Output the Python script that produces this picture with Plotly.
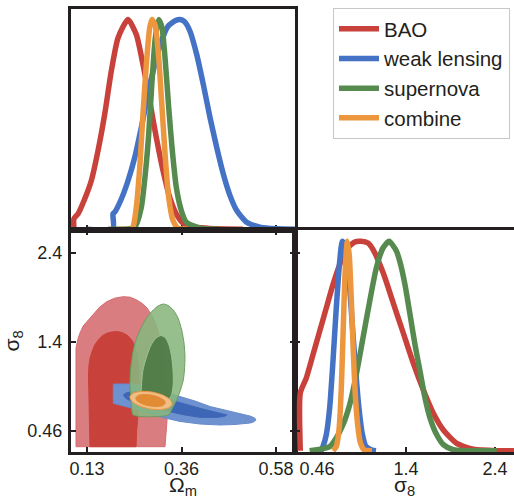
import plotly.graph_objects as go

# ---------------- data ----------------
series = ["BAO", "weak lensing", "supernova", "combine"]
colors = ["#c8413a", "#4472c4", "#568a4e", "#ec963e"]

# 1D marginal of Omega_m (normalised to peak = 1)
om_bao = [0.099, 0.099, 0.1086, 0.1245, 0.1402, 0.1562, 0.1721, 0.1879, 0.2038, 0.2276, 0.2474, 0.2633,
          0.2793, 0.2950, 0.3110, 0.3269, 0.3426, 0.3586, 0.387, 0.423, 0.501]
pd_om_bao = [0, 0.05, 0.073, 0.144, 0.231, 0.374, 0.548, 0.754, 0.912, 1.0, 0.928, 0.785,
             0.611, 0.437, 0.279, 0.152, 0.073, 0.029, 0.01, 0.003, 0]
om_wl = [0.130, 0.1919, 0.1919, 0.196, 0.2117, 0.2276, 0.2436, 0.2593, 0.2752, 0.2912, 0.3069, 0.3229,
         0.3410, 0.3514, 0.3620, 0.3752, 0.3912, 0.4069, 0.4229, 0.4388, 0.4545, 0.4705, 0.4864, 0.5102,
         0.5419, 0.5817, 0.6252]
pd_om_wl = [0, 0, 0.073, 0.081, 0.144, 0.231, 0.342, 0.485, 0.643, 0.785, 0.896, 0.968,
            0.995, 1.0, 0.99, 0.944, 0.833, 0.690, 0.532, 0.390, 0.263, 0.160, 0.089, 0.033,
            0.01, 0.002, 0]
om_sn = [0.18, 0.2436, 0.2593, 0.2688, 0.2769, 0.2848, 0.2926, 0.3007, 0.3086, 0.3164, 0.3245, 0.3324,
         0.3426, 0.3545, 0.3664, 0.399, 0.4467]
pd_om_sn = [0, 0.01, 0.104, 0.263, 0.453, 0.706, 0.912, 1.0, 0.96, 0.801, 0.58, 0.39,
            0.2, 0.089, 0.033, 0.005, 0]
om_cb = [0.2038, 0.2348, 0.2395, 0.2474, 0.2555, 0.2633, 0.2712, 0.2793, 0.2848, 0.2926, 0.3007, 0.3086,
         0.3164, 0.3245, 0.3348, 0.3467, 0.3705]
pd_om_cb = [0, 0, 0.01, 0.104, 0.294, 0.548, 0.785, 0.96, 1.0, 0.97, 0.817, 0.58,
            0.342, 0.152, 0.041, 0.005, 0]

# 1D marginal of sigma_8
s8_bao = [0.278, 0.278, 0.343, 0.416, 0.489, 0.561, 0.634, 0.707, 0.779, 0.871, 0.940, 1.016,
          1.074, 1.183, 1.292, 1.401, 1.510, 1.619, 1.728, 1.837, 1.983, 2.164, 2.419, 2.607]
pd_s8_bao = [0, 0.276, 0.347, 0.458, 0.570, 0.681, 0.793, 0.888, 0.960, 0.997, 1.0, 0.992,
             0.958, 0.847, 0.704, 0.561, 0.417, 0.290, 0.179, 0.099, 0.035, 0.007, 0, 0]
s8_wl = [0.384, 0.504, 0.525, 0.561, 0.598, 0.634, 0.670, 0.707, 0.736, 0.773, 0.809, 0.845,
         0.882, 0.918, 0.954, 0.994, 1.059, 1.103]
pd_s8_wl = [0, 0, 0.02, 0.076, 0.204, 0.427, 0.681, 0.904, 1.0, 0.97, 0.82, 0.6,
            0.38, 0.2, 0.08, 0.02, 0.003, 0]
s8_sn = [0.380, 0.598, 0.670, 0.743, 0.816, 0.888, 0.961, 1.034, 1.106, 1.179, 1.245, 1.324,
         1.365, 1.419, 1.474, 1.528, 1.583, 1.637, 1.692, 1.765, 1.837, 1.946, 2.419]
pd_s8_sn = [0, 0.02, 0.061, 0.124, 0.22, 0.363, 0.538, 0.713, 0.872, 0.968, 1.0, 0.955,
            0.9, 0.793, 0.65, 0.506, 0.379, 0.252, 0.156, 0.076, 0.029, 0.005, 0]
s8_cb = [0.634, 0.670, 0.700, 0.725, 0.747, 0.768, 0.790, 0.812, 0.834, 0.856, 0.877, 0.904,
         0.932, 0.972, 1.059]
pd_s8_cb = [0, 0.02, 0.1, 0.3, 0.6, 0.87, 1.0, 0.93, 0.72, 0.47, 0.27, 0.12,
            0.04, 0.005, 0]

# 2D credible contours (Omega_m, sigma_8): 95% (outer) and 68% (inner)
bao95_om = [0.1038, 0.1038, 0.1080, 0.1130, 0.1212, 0.1320, 0.1450, 0.1600, 0.1769, 0.1960, 0.2164,
            0.2330, 0.2483, 0.2615, 0.2729, 0.2830, 0.2919, 0.2995, 0.3062, 0.3105, 0.3133,
            0.3155, 0.3169, 0.3185, 0.3193, 0.3202, 0.3205, 0.3195, 0.3181, 0.3157]
bao95_s8 = [0.289, 1.361, 1.455, 1.525, 1.606, 1.663, 1.740, 1.810, 1.869, 1.908, 1.924,
            1.918, 1.888, 1.850, 1.801, 1.730, 1.648, 1.555, 1.452, 1.345, 1.234,
            1.125, 1.016, 0.907, 0.798, 0.689, 0.580, 0.490, 0.416, 0.289]
bao68_om = [0.1371, 0.1360, 0.1336, 0.1331, 0.1335, 0.1348, 0.1375, 0.1419, 0.1480, 0.1569, 0.1665,
            0.1769, 0.1890, 0.2014, 0.2140, 0.2252, 0.2330, 0.2395, 0.2450, 0.2491, 0.2520, 0.2538,
            0.2542, 0.2538, 0.2521, 0.2483, 0.2467]
bao68_s8 = [0.289, 0.525, 0.743, 0.961, 1.070, 1.179, 1.260, 1.321, 1.395, 1.452, 1.498,
            1.525, 1.540, 1.544, 1.532, 1.506, 1.472, 1.430, 1.365, 1.288, 1.180, 1.070,
            0.961, 0.852, 0.656, 0.471, 0.289]
wl95_om = [0.1926, 0.2324, 0.2681, 0.3038, 0.3395, 0.3871, 0.4229, 0.4586, 0.4943, 0.5181, 0.5290, 0.5324,
           0.5260, 0.5181, 0.4824, 0.4467, 0.3991, 0.3514, 0.3157, 0.2800, 0.2443, 0.2086, 0.1926]
wl95_s8 = [0.972, 0.972, 0.961, 0.929, 0.852, 0.787, 0.727, 0.689, 0.653, 0.623, 0.603, 0.580,
           0.557, 0.547, 0.531, 0.525, 0.536, 0.564, 0.602, 0.645, 0.700, 0.743, 0.762]
wl68_om = [0.2164, 0.2220, 0.2324, 0.2562, 0.2919, 0.3436, 0.3991, 0.4388, 0.4560, 0.4633, 0.4560,
           0.4395, 0.3991, 0.3633, 0.3276, 0.2919, 0.2640, 0.2371, 0.2229]
wl68_s8 = [0.852, 0.872, 0.885, 0.896, 0.863, 0.779, 0.707, 0.662, 0.645, 0.634, 0.618,
           0.609, 0.609, 0.634, 0.670, 0.711, 0.743, 0.782, 0.814]
sn95_om = [0.2402, 0.2348, 0.2324, 0.2336, 0.2402, 0.2491, 0.2602, 0.2729, 0.2879, 0.2991, 0.3117,
           0.3229, 0.3355, 0.3467, 0.3555, 0.3610, 0.3633, 0.3621, 0.3593, 0.3526, 0.3436, 0.3336, 0.3236]
sn95_s8 = [0.634, 0.798, 0.961, 1.125, 1.343, 1.484, 1.597, 1.702, 1.779, 1.822, 1.844,
           1.828, 1.779, 1.692, 1.561, 1.419, 1.270, 1.125, 1.016, 0.907, 0.798, 0.711, 0.634]
sn68_om = [0.2610, 0.2598, 0.2633, 0.2717, 0.2824, 0.2943, 0.3062, 0.3169, 0.3252, 0.3312, 0.3348,
           0.3355, 0.3324, 0.3276]
sn68_s8 = [0.820, 0.961, 1.125, 1.267, 1.397, 1.474, 1.501, 1.474, 1.397, 1.277, 1.125,
           0.983, 0.874, 0.820]
cb95_om = [0.3329, 0.3243, 0.3045, 0.2788, 0.2541, 0.2369, 0.2319, 0.2405, 0.2602, 0.2860, 0.3107, 0.3279]
cb95_s8 = [0.752, 0.712, 0.693, 0.701, 0.734, 0.782, 0.833, 0.873, 0.892, 0.884, 0.851, 0.802]
cb68_om = [0.3164, 0.3105, 0.2969, 0.2788, 0.2617, 0.2495, 0.2460, 0.2519, 0.2655, 0.2836, 0.3007, 0.3129]
cb68_s8 = [0.764, 0.738, 0.727, 0.734, 0.755, 0.787, 0.821, 0.847, 0.858, 0.851, 0.829, 0.798]

om_ticks = [0.13, 0.355, 0.58]
om_ticktext = ["0.13", "0.36", "0.58"]
s8_ticks = [0.46, 1.43, 2.4]
s8_ticktext = ["0.46", "1.4", "2.4"]

# ---------------- figure ----------------
W, H = 514, 499
FONT = "Liberation Sans, Arial, Helvetica, sans-serif"
INK = "#231f20"

fig = go.Figure()

om_data = [(om_bao, pd_om_bao), (om_wl, pd_om_wl), (om_sn, pd_om_sn), (om_cb, pd_om_cb)]
s8_data = [(s8_bao, pd_s8_bao), (s8_wl, pd_s8_wl), (s8_sn, pd_s8_sn), (s8_cb, pd_s8_cb)]

for name, col, (xs, ys) in zip(series, colors, om_data):
    fig.add_trace(go.Scatter(x=xs, y=ys, mode="lines", name=name, legendgroup=name,
                             line=dict(color=col, width=5.5, shape="spline", smoothing=0.6),
                             xaxis="x", yaxis="y"))

def region(xs, ys, fill, edge, shape="linear"):
    line = dict(color=edge, width=1, shape=shape)
    if shape == "spline":
        line["smoothing"] = 0.6
    fig.add_trace(go.Scatter(x=xs + xs[:1], y=ys + ys[:1], mode="lines", fill="toself",
                             fillcolor=fill, showlegend=False, hoverinfo="skip",
                             line=line, xaxis="x2", yaxis="y2"))

region(bao95_om, bao95_s8, "#da7d80", "#d76a6e")
region(bao68_om, bao68_s8, "#c8413a", "#c8413a")
region(wl95_om, wl95_s8, "#6e91d0", "#6a8ccc")
region(wl68_om, wl68_s8, "#3e66b6", "#3e66b6")
region(sn95_om, sn95_s8, "rgba(135,182,125,0.88)", "rgba(105,155,95,0.95)", "spline")
region(sn68_om, sn68_s8, "rgba(78,122,68,0.92)", "rgba(160,198,150,0.9)", "spline")
region(cb95_om, cb95_s8, "#f1bd86", "#ec963e", "spline")
region(cb68_om, cb68_s8, "#e18c34", "#e18c34", "spline")

for name, col, (xs, ys) in zip(series, colors, s8_data):
    fig.add_trace(go.Scatter(x=xs, y=ys, mode="lines", name=name, legendgroup=name, showlegend=False,
                             line=dict(color=col, width=5.5, shape="spline", smoothing=0.6),
                             xaxis="x3", yaxis="y3"))

def px_x(p):
    return p / W

def px_y(p):
    return 1 - p / H

xl = [px_x(71), px_x(295)]
xr = [px_x(295), 1.0]
yt = [px_y(230), px_y(9)]
yb = [px_y(452), px_y(230)]

om_range = [0.0919, 0.6252]
s8_range = [0.2311, 2.6507]

common = dict(showgrid=False, zeroline=False, showline=True, linecolor=INK, linewidth=3,
              tickcolor=INK, tickwidth=2, ticklen=5, automargin=False,
              tickfont=dict(family=FONT, size=18, color=INK))

fig.update_layout(
    width=W, height=H,
    margin=dict(l=0, r=0, t=0, b=0, autoexpand=False),
    paper_bgcolor="white", plot_bgcolor="white",
    font=dict(family=FONT, color=INK),
    showlegend=True,
    legend=dict(x=px_x(333), y=px_y(8), xanchor="left", yanchor="top",
                bgcolor="white", bordercolor="#c8c8c8", borderwidth=1, itemwidth=40,
                font=dict(family=FONT, size=20.5, color=INK), tracegroupgap=0),
    xaxis=dict(domain=xl, anchor="y", range=om_range, tickvals=om_ticks, showticklabels=False,
               ticks="inside", mirror=True, layer="below traces", **common),
    yaxis=dict(domain=yt, anchor="x", range=[-0.004, 1.05], showticklabels=False, ticks="",
               mirror=True, **common),
    xaxis2=dict(domain=xl, anchor="y2", range=om_range, tickvals=om_ticks, ticktext=om_ticktext,
                ticks="inside", mirror="allticks", ticklabelstandoff=-2,
                title=dict(text="Ω<sub>m</sub>", standoff=9, font=dict(family=FONT, size=21, color=INK)),
                **common),
    yaxis2=dict(domain=yb, anchor="x2", range=s8_range, tickvals=s8_ticks, ticktext=s8_ticktext,
                ticks="inside", mirror="allticks", ticklabelstandoff=2,
                title=dict(text="σ<sub>8</sub>", standoff=4, font=dict(family=FONT, size=21, color=INK)),
                **common),
    xaxis3=dict(domain=xr, anchor="y3", range=[0.2202, 2.607], tickvals=s8_ticks, ticktext=s8_ticktext,
                ticks="inside", mirror=True, layer="below traces", ticklabelstandoff=-2,
                title=dict(text="σ<sub>8</sub>", standoff=3, font=dict(family=FONT, size=21, color=INK)),
                **common),
    yaxis3=dict(domain=yb, anchor="x3", range=[-0.006, 1.054], tickvals=[0.094, 0.519, 0.944],
                showticklabels=False, ticks="inside", mirror=False, **common),
)

fig.write_html("out.html")
